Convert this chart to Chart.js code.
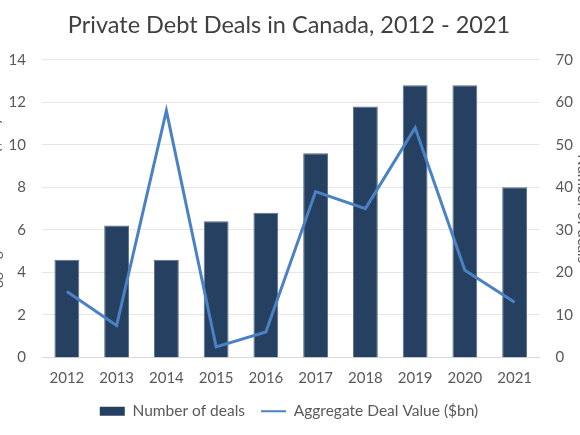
<!DOCTYPE html>
<html>
<head>
<meta charset="utf-8">
<script src="https://cdn.jsdelivr.net/npm/chart.js@4/dist/chart.umd.min.js"></script>
<style>
  html, body { margin: 0; padding: 0; background: #fff; overflow: hidden; }
  body { width: 580px; height: 435px; position: relative; }
  /* the axis titles are cut by the picture edges, so the canvas is a bit wider than the window */
  .chart-container { position: absolute; left: -14px; top: 0; width: 606px; height: 435px; }
</style>
</head>
<body>
<div class="chart-container"><canvas id="chart"></canvas></div>
<script>
const years = ["2012", "2013", "2014", "2015", "2016", "2017", "2018", "2019", "2020", "2021"];
// number of deals, read on right axis
const numberOfDeals = [23, 31, 23, 32, 34, 48, 59, 64, 64, 40];
// aggregate deal value in $bn, read on left axis
const dealValue = [3.1, 1.5, 11.6, 0.5, 1.2, 7.8, 7.0, 10.8, 4.1, 2.6];

const fontFamily = "Lato, 'Noto Sans', sans-serif";
const textColor = "#595959";
const tickFont = { family: fontFamily, size: 15 };

const canvasCtx = document.querySelector("#chart").getContext("2d");

const legendLabels = (chart) =>
  Chart.defaults.plugins.legend.labels
    .generateLabels(chart)
    .sort((a, b) => a.datasetIndex - b.datasetIndex)
    .map((item) => ({ ...item, lineWidth: item.datasetIndex === 1 ? 2 : 0 }));

const chart = new Chart(canvasCtx, {
  data: {
    labels: years,
    datasets: [
      {
        type: "bar",
        label: "Number of deals",
        data: numberOfDeals,
        yAxisID: "y1",
        backgroundColor: "#264061",
        borderColor: "#5b6f88",
        borderWidth: 1,
        pointStyle: "rect",
        categoryPercentage: 1,
        barPercentage: 0.5,
        order: 2,
      },
      {
        type: "line",
        label: "Aggregate Deal Value ($bn)",
        data: dealValue,
        yAxisID: "y",
        borderColor: "#4A82C4",
        backgroundColor: "#4A82C4",
        borderWidth: 3,
        pointRadius: 0,
        pointStyle: "line",
        tension: 0,
        order: 1,
      },
    ],
  },
  options: {
    responsive: true,
    maintainAspectRatio: false,
    animation: false,
    layout: { padding: { top: 6, bottom: 6, left: 0, right: 0 } },
    plugins: {
      title: {
        display: true,
        text: "Private Debt Deals in Canada, 2012 - 2021",
        color: "#404040",
        font: { family: fontFamily, size: 23.5, weight: "normal" },
        padding: { top: 5.5, bottom: 20 },
      },
      legend: {
        position: "bottom",
        labels: {
          usePointStyle: true,
          pointStyleWidth: 25,
          boxHeight: 9,
          padding: 16,
          color: textColor,
          font: { family: fontFamily, size: 15.5 },
          generateLabels: legendLabels,
        },
      },
      tooltip: { enabled: false },
    },
    scales: {
      x: {
        afterFit: (scale) => { scale.height = 30; },
        grid: { display: false, drawTicks: false },
        border: { color: "#d9d9d9" },
        ticks: { color: textColor, font: tickFont, padding: 12 },
      },
      y: {
        position: "left",
        min: 0,
        max: 14,
        afterFit: (scale) => { scale.width = 56; },
        ticks: { stepSize: 2, color: textColor, font: tickFont, padding: 16 },
        grid: { color: "#e6e6e6", drawTicks: false },
        border: { display: false },
        title: {
          display: true,
          text: "Aggregate Deal Value ($bn)",
          color: textColor,
          font: tickFont,
          padding: { top: 0, bottom: 0 },
        },
      },
      y1: {
        position: "right",
        min: 0,
        max: 70,
        afterFit: (scale) => { scale.width = 52.5; },
        ticks: { stepSize: 10, color: textColor, font: tickFont, padding: 16 },
        grid: { display: false, drawTicks: false },
        border: { display: false },
        title: {
          display: true,
          text: "Number of deals",
          color: textColor,
          font: tickFont,
          padding: { top: 0, bottom: 0 },
        },
      },
    },
  },
});
</script>
</body>
</html>
